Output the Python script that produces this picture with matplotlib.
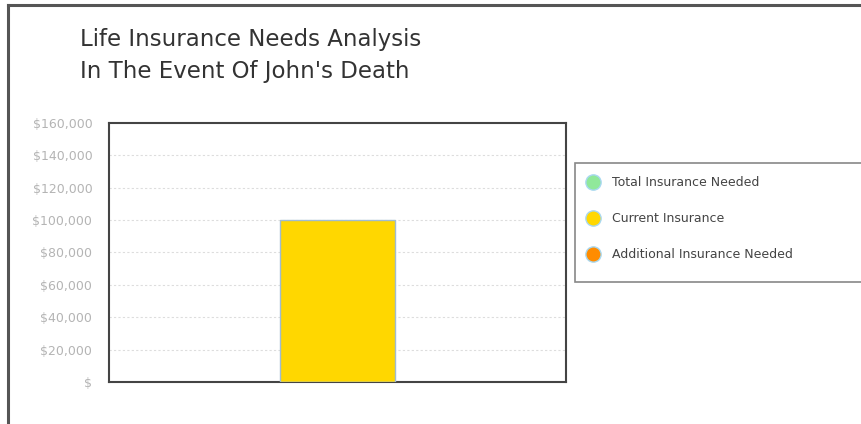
import matplotlib.pyplot as plt
from matplotlib.patches import Rectangle
from matplotlib.lines import Line2D

# donnees
series = ["Total Insurance Needed", "Current Insurance", "Additional Insurance Needed"]
values = [0, 100000, 0]
colors = ["#90e89a", "#ffd700", "#ff8c00"]
yticks = [0, 20000, 40000, 60000, 80000, 100000, 120000, 140000, 160000]
ylabels = ["$", "$20,000", "$40,000", "$60,000", "$80,000", "$100,000", "$120,000", "$140,000", "$160,000"]
titre = ["Life Insurance Needs Analysis", "In The Event Of John's Death"]

W, H = 862, 424
fig = plt.figure(figsize=(W / 100, H / 100), dpi=100)
plt.rcParams['font.family'] = ['DejaVu Sans']

# cadre exterieur (haut et gauche)
fig.add_artist(Line2D([8 / W, 1], [1 - 5 / H, 1 - 5 / H], color="#555555", lw=2.2, transform=fig.transFigure))
fig.add_artist(Line2D([8 / W, 8 / W], [0, 1 - 5 / H], color="#555555", lw=2.2, transform=fig.transFigure))

ax = fig.add_axes([109 / W, 1 - 382 / H, (566 - 109) / W, (382 - 123) / H])
for i in range(len(series)):
    ax.bar(0, values[i], width=1, color=colors[i], edgecolor="#a0bcd0", linewidth=1, zorder=3)
ax.set_xlim(-2, 2)
ax.set_ylim(0, 160000)
ax.set_yticks(yticks)
ax.set_yticklabels(ylabels, fontsize=9, color="#b4b4b4")
ax.set_xticks([])
ax.tick_params(axis="y", length=0, pad=12)
for y in yticks[1:-1]:
    ax.axhline(y, color="#dddddd", lw=0.8, ls=(0, (2, 2)), zorder=1)
for s in ax.spines.values():
    s.set_color("#444444")
    s.set_linewidth(1.5)

# titre sur deux lignes
fig.text(80 / W, 1 - 46 / H, titre[0], fontsize=16.5, color="#333333", va="baseline")
fig.text(80 / W, 1 - 78 / H, titre[1], fontsize=16.5, color="#333333", va="baseline")

# legende
fig.add_artist(Rectangle((575 / W, 1 - 282 / H), 300 / W, 119 / H, transform=fig.transFigure,
                         facecolor="white", edgecolor="#888888", lw=1.2))
for i in range(len(series)):
    yy = 1 - (182 + 36 * i) / H
    fig.add_artist(Line2D([593 / W], [yy], marker="o", markersize=11, markerfacecolor=colors[i],
                          markeredgecolor="#a8d8f0", markeredgewidth=1, transform=fig.transFigure))
    fig.text(612 / W, yy, series[i], fontsize=9, color="#444444", va="center")

plt.savefig("out.png", dpi=100)
